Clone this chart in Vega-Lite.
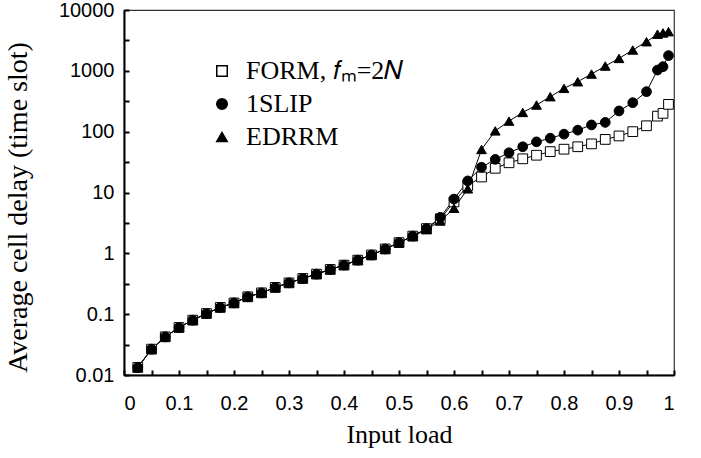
{
  "$schema": "https://vega.github.io/schema/vega-lite/v6.json",
  "width": 550,
  "height": 365,
  "autosize": {"type": "none"},
  "padding": {"left": 124, "top": 10, "right": 27, "bottom": 83},
  "background": "white",
  "config": {
    "view": {"stroke": "#333333", "strokeWidth": 1.2},
    "axis": {
      "grid": false,
      "domainColor": "black",
      "domainWidth": 2,
      "tickColor": "black",
      "tickWidth": 2,
      "tickSize": -5,
      "labelFont": "Liberation Sans",
      "labelFontSize": 20,
      "labelColor": "black",
      "titleFont": "Liberation Serif",
      "titleFontSize": 26,
      "titleFontWeight": "normal",
      "titleColor": "black"
    }
  },
  "data": {
    "values": [
      {"load": 0.025, "series": "FORM", "delay": 0.0133},
      {"load": 0.05, "series": "FORM", "delay": 0.0266},
      {"load": 0.075, "series": "FORM", "delay": 0.0424},
      {"load": 0.1, "series": "FORM", "delay": 0.0604},
      {"load": 0.125, "series": "FORM", "delay": 0.0797},
      {"load": 0.15, "series": "FORM", "delay": 0.1025},
      {"load": 0.175, "series": "FORM", "delay": 0.129},
      {"load": 0.2, "series": "FORM", "delay": 0.153},
      {"load": 0.225, "series": "FORM", "delay": 0.193},
      {"load": 0.25, "series": "FORM", "delay": 0.224},
      {"load": 0.275, "series": "FORM", "delay": 0.275},
      {"load": 0.3, "series": "FORM", "delay": 0.327},
      {"load": 0.325, "series": "FORM", "delay": 0.386},
      {"load": 0.35, "series": "FORM", "delay": 0.455},
      {"load": 0.375, "series": "FORM", "delay": 0.543},
      {"load": 0.4, "series": "FORM", "delay": 0.64},
      {"load": 0.425, "series": "FORM", "delay": 0.773},
      {"load": 0.45, "series": "FORM", "delay": 0.94},
      {"load": 0.475, "series": "FORM", "delay": 1.18},
      {"load": 0.5, "series": "FORM", "delay": 1.5},
      {"load": 0.525, "series": "FORM", "delay": 1.92},
      {"load": 0.55, "series": "FORM", "delay": 2.55},
      {"load": 0.575, "series": "FORM", "delay": 3.7},
      {"load": 0.6, "series": "FORM", "delay": 7.0},
      {"load": 0.625, "series": "FORM", "delay": 13},
      {"load": 0.65, "series": "FORM", "delay": 18},
      {"load": 0.675, "series": "FORM", "delay": 25},
      {"load": 0.7, "series": "FORM", "delay": 30.8},
      {"load": 0.725, "series": "FORM", "delay": 35.8},
      {"load": 0.75, "series": "FORM", "delay": 41},
      {"load": 0.775, "series": "FORM", "delay": 47},
      {"load": 0.8, "series": "FORM", "delay": 51.5},
      {"load": 0.825, "series": "FORM", "delay": 56.5},
      {"load": 0.85, "series": "FORM", "delay": 63},
      {"load": 0.875, "series": "FORM", "delay": 74.6},
      {"load": 0.9, "series": "FORM", "delay": 85},
      {"load": 0.925, "series": "FORM", "delay": 100},
      {"load": 0.95, "series": "FORM", "delay": 125},
      {"load": 0.97, "series": "FORM", "delay": 180},
      {"load": 0.98, "series": "FORM", "delay": 200},
      {"load": 0.99, "series": "FORM", "delay": 281},

      {"load": 0.025, "series": "1SLIP", "delay": 0.0133},
      {"load": 0.05, "series": "1SLIP", "delay": 0.0266},
      {"load": 0.075, "series": "1SLIP", "delay": 0.0424},
      {"load": 0.1, "series": "1SLIP", "delay": 0.0604},
      {"load": 0.125, "series": "1SLIP", "delay": 0.0797},
      {"load": 0.15, "series": "1SLIP", "delay": 0.1025},
      {"load": 0.175, "series": "1SLIP", "delay": 0.129},
      {"load": 0.2, "series": "1SLIP", "delay": 0.153},
      {"load": 0.225, "series": "1SLIP", "delay": 0.193},
      {"load": 0.25, "series": "1SLIP", "delay": 0.224},
      {"load": 0.275, "series": "1SLIP", "delay": 0.275},
      {"load": 0.3, "series": "1SLIP", "delay": 0.327},
      {"load": 0.325, "series": "1SLIP", "delay": 0.386},
      {"load": 0.35, "series": "1SLIP", "delay": 0.455},
      {"load": 0.375, "series": "1SLIP", "delay": 0.543},
      {"load": 0.4, "series": "1SLIP", "delay": 0.64},
      {"load": 0.425, "series": "1SLIP", "delay": 0.773},
      {"load": 0.45, "series": "1SLIP", "delay": 0.94},
      {"load": 0.475, "series": "1SLIP", "delay": 1.18},
      {"load": 0.5, "series": "1SLIP", "delay": 1.5},
      {"load": 0.525, "series": "1SLIP", "delay": 1.92},
      {"load": 0.55, "series": "1SLIP", "delay": 2.55},
      {"load": 0.575, "series": "1SLIP", "delay": 3.9},
      {"load": 0.6, "series": "1SLIP", "delay": 7.8},
      {"load": 0.625, "series": "1SLIP", "delay": 15.5},
      {"load": 0.65, "series": "1SLIP", "delay": 26},
      {"load": 0.675, "series": "1SLIP", "delay": 35},
      {"load": 0.7, "series": "1SLIP", "delay": 45},
      {"load": 0.725, "series": "1SLIP", "delay": 56.5},
      {"load": 0.75, "series": "1SLIP", "delay": 68},
      {"load": 0.775, "series": "1SLIP", "delay": 78},
      {"load": 0.8, "series": "1SLIP", "delay": 91},
      {"load": 0.825, "series": "1SLIP", "delay": 106},
      {"load": 0.85, "series": "1SLIP", "delay": 129},
      {"load": 0.875, "series": "1SLIP", "delay": 142},
      {"load": 0.9, "series": "1SLIP", "delay": 219},
      {"load": 0.925, "series": "1SLIP", "delay": 299},
      {"load": 0.95, "series": "1SLIP", "delay": 454},
      {"load": 0.97, "series": "1SLIP", "delay": 1030},
      {"load": 0.98, "series": "1SLIP", "delay": 1170},
      {"load": 0.99, "series": "1SLIP", "delay": 1780},

      {"load": 0.025, "series": "EDRRM", "delay": 0.0133},
      {"load": 0.05, "series": "EDRRM", "delay": 0.0266},
      {"load": 0.075, "series": "EDRRM", "delay": 0.0424},
      {"load": 0.1, "series": "EDRRM", "delay": 0.0604},
      {"load": 0.125, "series": "EDRRM", "delay": 0.0797},
      {"load": 0.15, "series": "EDRRM", "delay": 0.1025},
      {"load": 0.175, "series": "EDRRM", "delay": 0.129},
      {"load": 0.2, "series": "EDRRM", "delay": 0.153},
      {"load": 0.225, "series": "EDRRM", "delay": 0.193},
      {"load": 0.25, "series": "EDRRM", "delay": 0.224},
      {"load": 0.275, "series": "EDRRM", "delay": 0.275},
      {"load": 0.3, "series": "EDRRM", "delay": 0.327},
      {"load": 0.325, "series": "EDRRM", "delay": 0.386},
      {"load": 0.35, "series": "EDRRM", "delay": 0.455},
      {"load": 0.375, "series": "EDRRM", "delay": 0.543},
      {"load": 0.4, "series": "EDRRM", "delay": 0.64},
      {"load": 0.425, "series": "EDRRM", "delay": 0.773},
      {"load": 0.45, "series": "EDRRM", "delay": 0.94},
      {"load": 0.475, "series": "EDRRM", "delay": 1.18},
      {"load": 0.5, "series": "EDRRM", "delay": 1.5},
      {"load": 0.525, "series": "EDRRM", "delay": 1.9},
      {"load": 0.55, "series": "EDRRM", "delay": 2.45},
      {"load": 0.575, "series": "EDRRM", "delay": 3.4},
      {"load": 0.6, "series": "EDRRM", "delay": 5.5},
      {"load": 0.625, "series": "EDRRM", "delay": 11.5},
      {"load": 0.65, "series": "EDRRM", "delay": 51},
      {"load": 0.675, "series": "EDRRM", "delay": 103},
      {"load": 0.7, "series": "EDRRM", "delay": 149},
      {"load": 0.725, "series": "EDRRM", "delay": 207},
      {"load": 0.75, "series": "EDRRM", "delay": 274},
      {"load": 0.775, "series": "EDRRM", "delay": 376},
      {"load": 0.8, "series": "EDRRM", "delay": 515},
      {"load": 0.825, "series": "EDRRM", "delay": 662},
      {"load": 0.85, "series": "EDRRM", "delay": 885},
      {"load": 0.875, "series": "EDRRM", "delay": 1200},
      {"load": 0.9, "series": "EDRRM", "delay": 1600},
      {"load": 0.925, "series": "EDRRM", "delay": 2200},
      {"load": 0.95, "series": "EDRRM", "delay": 3010},
      {"load": 0.97, "series": "EDRRM", "delay": 4000},
      {"load": 0.98, "series": "EDRRM", "delay": 4200},
      {"load": 0.99, "series": "EDRRM", "delay": 4400}
    ]
  },
  "encoding": {
    "x": {
      "field": "load",
      "type": "quantitative",
      "title": "Input load",
      "scale": {"domain": [0, 1], "nice": false, "zero": false},
      "axis": {
        "values": [0, 0.05, 0.1, 0.15, 0.2, 0.25, 0.3, 0.35, 0.4, 0.45, 0.5, 0.55, 0.6, 0.65, 0.7, 0.75, 0.8, 0.85, 0.9, 0.95, 1],
        "labelExpr": "round(datum.value*100) % 10 === 0 ? format(datum.value, '~g') : ''",
        "labelPadding": 23,
        "titlePadding": 8
      }
    },
    "y": {
      "field": "delay",
      "type": "quantitative",
      "title": "Average cell delay (time slot)",
      "scale": {"type": "log", "domain": [0.01, 10000], "nice": false},
      "axis": {
        "values": [0.01, 0.0316, 0.1, 0.316, 1, 3.16, 10, 31.6, 100, 316, 1000, 3162, 10000],
        "labelExpr": "abs(log(datum.value)/LN10 - round(log(datum.value)/LN10)) < 0.01 ? format(datum.value, '~g') : ''",
        "labelPadding": 15,
        "titlePadding": 26,
        "titleFontSize": 28,
        "titleY": 197
      }
    }
  },
  "layer": [
    {
      "mark": {"type": "line", "color": "black", "strokeWidth": 1},
      "encoding": {"detail": {"field": "series"}}
    },
    {
      "mark": {"type": "point", "filled": true, "stroke": "black", "strokeWidth": 1, "size": 95, "opacity": 1},
      "encoding": {
        "shape": {
          "field": "series",
          "type": "nominal",
          "scale": {"domain": ["FORM", "1SLIP", "EDRRM"], "range": ["square", "circle", "triangle-up"]},
          "legend": {
            "title": null,
            "orient": "none",
            "legendX": 85,
            "legendY": 48,
            "padding": 0,
            "symbolSize": 110,
            "labelOffset": 11,
            "rowPadding": 7,
            "labelFont": "Liberation Serif",
            "labelFontSize": 26,
            "labelColor": "black",
            "labelExpr": "datum.value === 'FORM' ? 'FORM, 𝑓ₘ=2𝑁' : datum.label",
            "encode": {
              "symbols": {
                "fill": {"value": {"expr": "datum.value === 'FORM' ? 'white' : 'black'"}},
                "stroke": {"value": "black"},
                "strokeWidth": {"value": 1}
              }
            }
          }
        },
        "fill": {
          "field": "series",
          "type": "nominal",
          "scale": {"domain": ["FORM", "1SLIP", "EDRRM"], "range": ["white", "black", "black"]},
          "legend": null
        }
      }
    },
    {
      "data": {"values": [{"note": "32x32 switch"}]},
      "mark": {"type": "text", "font": "Liberation Serif", "fontSize": 26, "color": "black"},
      "encoding": {
        "x": {"datum": 0.729},
        "y": {"datum": 0.085},
        "text": {"field": "note"}
      }
    }
  ]
}
